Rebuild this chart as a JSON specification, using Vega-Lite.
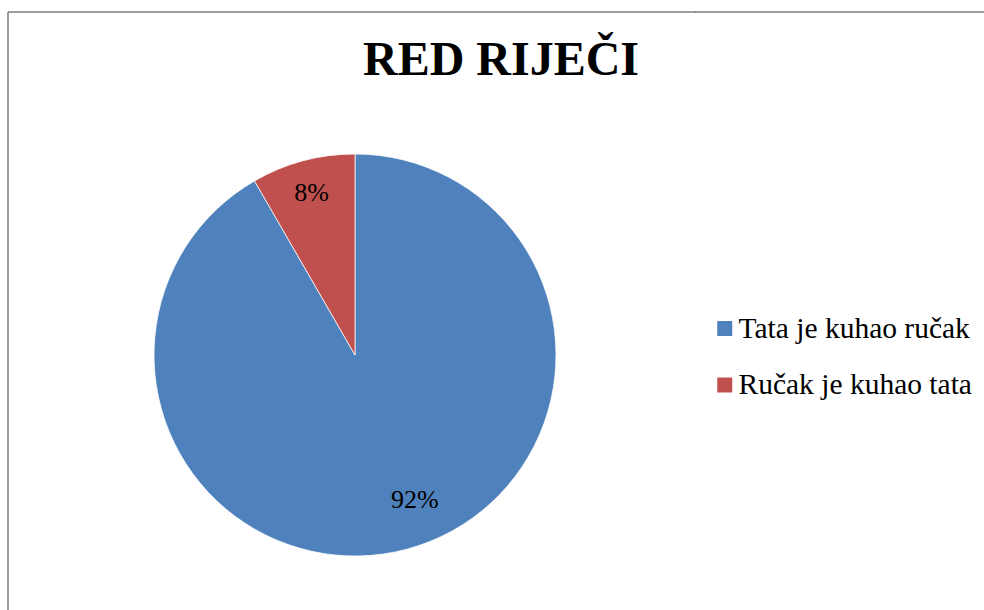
{
  "$schema": "https://vega.github.io/schema/vega-lite/v6.json",
  "width": 694,
  "height": 686,
  "autosize": {"type": "none"},
  "padding": {"left": 8, "top": 12, "right": 282, "bottom": -88},
  "background": "white",
  "title": {
    "text": "RED RIJEČI",
    "font": "Liberation Serif",
    "fontSize": 48,
    "fontWeight": "bold",
    "color": "#000000",
    "anchor": "middle",
    "frame": "group",
    "offset": -74,
    "dx": 146
  },
  "data": {
    "values": [
      {"answer": "Tata je kuhao ručak", "value": 0.9167, "rank": 1},
      {"answer": "Ručak je kuhao tata", "value": 0.0833, "rank": 2}
    ]
  },
  "encoding": {
    "theta": {"field": "value", "type": "quantitative", "stack": true},
    "order": {"field": "rank", "type": "quantitative"}
  },
  "layer": [
    {
      "mark": {"type": "arc", "outerRadius": 201, "stroke": "#ffffff", "strokeWidth": 0.75},
      "encoding": {
        "color": {
          "field": "answer",
          "type": "nominal",
          "scale": {
            "domain": ["Tata je kuhao ručak", "Ručak je kuhao tata"],
            "range": ["#4F81BD", "#C0504D"]
          },
          "legend": {
            "orient": "none",
            "legendX": 687,
            "legendY": 0,
            "title": " ",
            "titleFontSize": 10,
            "titlePadding": 276.75,
            "labelFont": "Liberation Serif",
            "labelFontSize": 29.5,
            "labelColor": "#000000",
            "labelLimit": 400,
            "symbolType": "square",
            "symbolSize": 225,
            "symbolStrokeWidth": 0,
            "labelOffset": -1,
            "rowPadding": 25.5,
            "padding": 15
          }
        }
      }
    },
    {
      "mark": {"type": "text", "radius": 168, "font": "Liberation Serif", "fontSize": 26, "color": "#000000", "baseline": "middle"},
      "encoding": {
        "text": {
          "condition": {"test": "datum.rank == 2", "field": "value", "type": "quantitative", "format": ".0%"},
          "value": ""
        }
      }
    },
    {
      "mark": {"type": "text", "radius": 154, "dx": 20, "dy": -4, "font": "Liberation Serif", "fontSize": 26, "color": "#000000", "baseline": "middle"},
      "encoding": {
        "text": {
          "condition": {"test": "datum.rank == 1", "field": "value", "type": "quantitative", "format": ".0%"},
          "value": ""
        }
      }
    }
  ],
  "config": {
    "legend": {"strokeColor": "#7f7f7f", "strokeWidth": 1.5, "strokeDash": [300, 3000]},
    "style": {
      "view": {"stroke": "#7f7f7f", "strokeWidth": 1.5, "strokeDash": [688, 1386, 686, 0]},
      "cell": {"stroke": "#7f7f7f", "strokeWidth": 1.5, "strokeDash": [688, 1386, 686, 0]}
    }
  }
}
